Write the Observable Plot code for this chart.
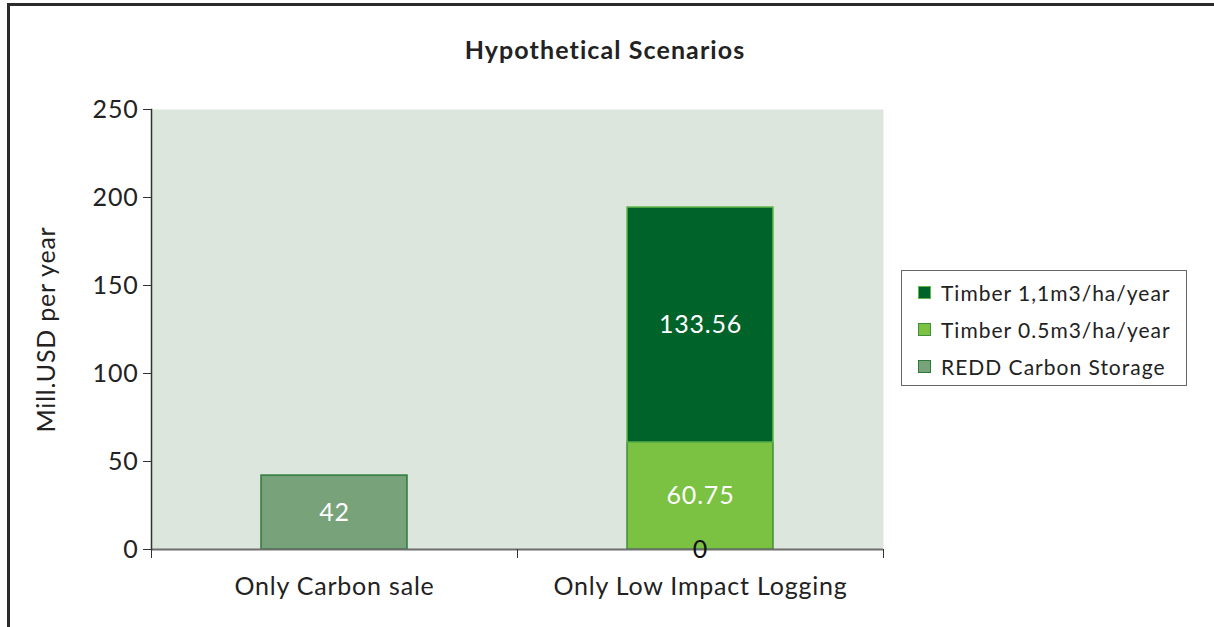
<!DOCTYPE html>
<html>
<head>
<meta charset="utf-8">
<script src="https://cdn.jsdelivr.net/npm/d3@7"></script>
<script src="https://cdn.jsdelivr.net/npm/@observablehq/plot@0.6"></script>
<style>
  html, body { margin: 0; padding: 0; background: #fff; }
  #wrap { position: relative; width: 1214px; height: 627px; overflow: hidden; font-family: Lato, "Open Sans", sans-serif; color: #222; }
  #frame { position: absolute; left: 7px; top: 3px; width: 1400px; height: 800px; border-left: 3px solid #2b2b2b; border-top: 3px solid #2b2b2b; box-sizing: border-box; pointer-events: none; }
  #title { position: relative; height: 80px; width: 1210px; text-align: center; font-weight: 700; font-size: 25px; line-height: 25px; padding-top: 37px; box-sizing: border-box; letter-spacing: 1.1px; }
  #chart { position: relative; }
  #legend { position: absolute; left: 901px; top: 270px; width: 286px; height: 116px; border: 1px solid #666; background: #fff; box-sizing: border-box; padding-top: 3px; }
  .item { display: flex; align-items: center; height: 37px; font-size: 21px; padding-left: 16px; letter-spacing: 1px; }
  .sw { width: 13px; height: 13px; margin-right: 10px; box-sizing: border-box; border: 1.5px solid; }
</style>
</head>
<body>
<div id="wrap">
  <div id="title">Hypothetical Scenarios</div>
  <div id="chart"></div>
  <div id="legend"></div>
  <div id="frame"></div>
</div>
<script>
// ---- data ----
const scenarios = ["Only Carbon sale", "Only Low Impact Logging"];
const seriesNames = ["REDD Carbon Storage", "Timber 0.5m3/ha/year", "Timber 1,1m3/ha/year"];
const reddValues = [42, 0];
const timber05Values = [null, 60.75];
const timber11Values = [null, 133.56];
const yTicks = [0, 50, 100, 150, 200, 250];
const legendOrder = ["Timber 1,1m3/ha/year", "Timber 0.5m3/ha/year", "REDD Carbon Storage"];

const fills = ["#77a27a", "#7bc142", "#00632a"];
const strokes = ["#2d7a3a", "#3f8f3a", "#62b84a"];

const seriesValues = [reddValues, timber05Values, timber11Values];
const rows = [];
scenarios.forEach((s, i) => {
  seriesNames.forEach((n, j) => {
    const v = seriesValues[j][i];
    if (v !== null && v !== undefined) rows.push({ scenario: s, series: n, value: v });
  });
});

const W = 1214, H = 547;
const mL = 151, mR = 331, mT = 29, mB = 78;
const padIn = 0.6, padOut = 0.3;
const step = (W - mL - mR) / (scenarios.length - padIn + 2 * padOut);

const stackOpts = { x: "scenario", y: "value", z: "series", order: seriesNames };

const plot = Plot.plot({
  width: W,
  height: H,
  marginLeft: mL,
  marginRight: mR,
  marginTop: mT,
  marginBottom: mB,
  style: { fontFamily: "Lato, 'Open Sans', sans-serif", fontSize: "24px", color: "#222", background: "transparent", letterSpacing: "0.8px" },
  x: { domain: scenarios, paddingInner: padIn, paddingOuter: padOut, label: null },
  y: { domain: [0, 250] },
  color: { domain: seriesNames, range: fills },
  marks: [
    Plot.frame({ fill: "#dce6dc", stroke: null }),
    Plot.barY(rows, Plot.stackY({ ...stackOpts, fill: "series", stroke: d => strokes[seriesNames.indexOf(d.series)], strokeWidth: 1.5 })),
    Plot.ruleY([0], { stroke: "#6e6e6e", strokeWidth: 2 }),
    Plot.frame({ anchor: "left", stroke: "#333", strokeWidth: 1.5 }),
    Plot.axisY({ ticks: yTicks, tickSize: 8, tickPadding: 5, tickFormat: d => String(d), fontSize: 25, stroke: "#333",
      label: "Mill.USD per year", labelAnchor: "center", labelArrow: "none", labelOffset: 114 }),
    Plot.axisX({ tickSize: 0, tickPadding: 28, fontSize: 25, label: null }),
    Plot.axisX(scenarios, { tickSize: 9, text: null, dx: -step / 2, stroke: "#333", label: null }),
    Plot.axisX([scenarios[scenarios.length - 1]], { tickSize: 9, text: null, dx: step / 2, stroke: "#333", label: null }),
    Plot.text(rows, Plot.stackY({ ...stackOpts, text: d => String(d.value), fill: d => d.value === 0 ? "#111" : "#fff", fontSize: 25 }))
  ]
});
document.getElementById("chart").appendChild(plot);

const legend = document.getElementById("legend");
legendOrder.forEach(n => {
  const i = seriesNames.indexOf(n);
  const item = document.createElement("div");
  item.className = "item";
  const sw = document.createElement("span");
  sw.className = "sw";
  sw.style.background = fills[i];
  sw.style.borderColor = strokes[i];
  const t = document.createElement("span");
  t.textContent = n;
  item.appendChild(sw);
  item.appendChild(t);
  legend.appendChild(item);
});
</script>
</body>
</html>
